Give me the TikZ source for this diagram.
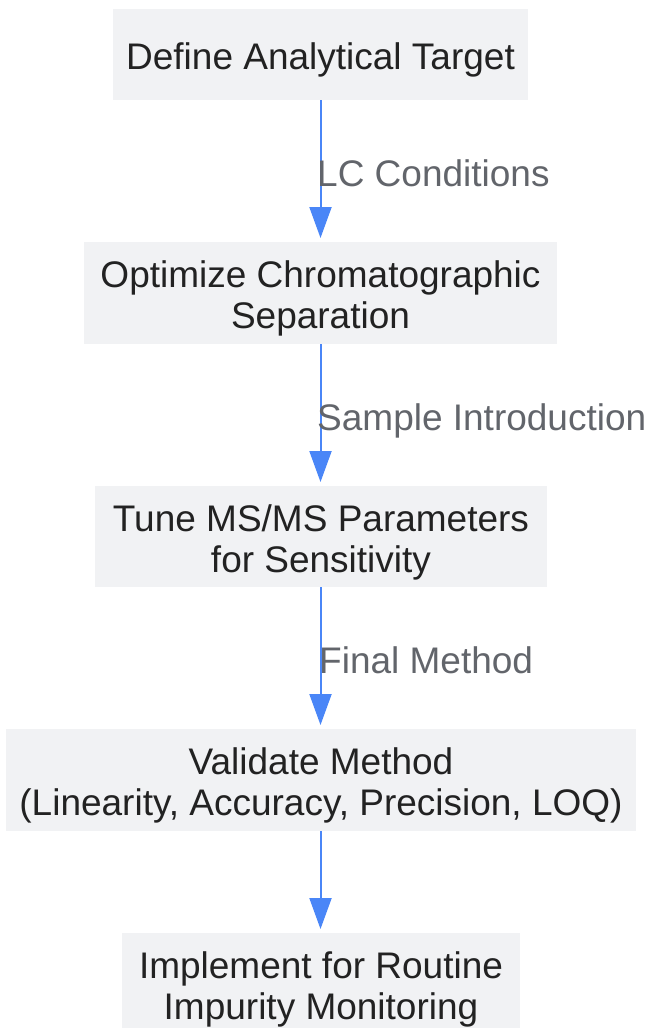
\documentclass[tikz,border=0pt]{standalone}
\usepackage{fontspec}
\setmainfont{Liberation Sans}
\usetikzlibrary{arrows.meta}
\definecolor{boxfill}{HTML}{F1F2F4}
\definecolor{arrowblue}{HTML}{4A86F7}
\definecolor{labelgray}{HTML}{62656B}
\definecolor{textdark}{HTML}{222222}
\begin{document}
\begin{tikzpicture}[x=1pt,y=1pt,
  stepbox/.style={fill=boxfill, draw=none, inner sep=0pt, anchor=center},
  boxtext/.style={align=center, text=textdark, font=\fontsize{37}{41}\selectfont, inner sep=0pt, anchor=center},
  arr/.style={draw=arrowblue, line width=2pt, -{Triangle[width=22pt,length=31pt]}},
  elabel/.style={text=labelgray, font=\fontsize{37}{41}\selectfont, anchor=base west, inner sep=0pt}]
\useasboundingbox (0,0) rectangle (652,-1028);
\node[stepbox, minimum width=415pt, minimum height=91pt] (n1) at (320.5,-54.5) {};
\node[stepbox, minimum width=473pt, minimum height=102pt] (n2) at (320.5,-293) {};
\node[stepbox, minimum width=452pt, minimum height=101pt] (n3) at (321,-536.5) {};
\node[stepbox, minimum width=630pt, minimum height=102pt] (n4) at (321,-780) {};
\node[stepbox, minimum width=398pt, minimum height=102pt] (n5) at (321,-984) {};
\node[boxtext] (x1) at ([yshift=-5pt]n1.center) {Define Analytical Target};
\node[boxtext] (x2) at ([yshift=-5.5pt]n2.center) {Optimize Chromatographic\\Separation};
\node[boxtext] (x3) at ([yshift=-5.5pt]n3.center) {Tune MS/MS Parameters\\for Sensitivity};
\node[boxtext] (x4) at ([yshift=-5.5pt]n4.center) {Validate Method\\(Linearity, Accuracy, Precision, LOQ)};
\node[boxtext] (x5) at ([yshift=-5.5pt]n5.center) {Implement for Routine\\Impurity Monitoring};
\coordinate (t2) at (320.5,-238);
\coordinate (t3) at (320.5,-482);
\coordinate (t4) at (320.5,-725);
\coordinate (t5) at (320.5,-929);
\draw[arr] (n1.south -| t2) -- (t2);
\draw[arr] (n2.south -| t3) -- (t3);
\draw[arr] (n3.south -| t4) -- (t4);
\draw[arr] (n4.south -| t5) -- (t5);
\node[elabel] (l1) at (317,-186) {LC Conditions};
\node[elabel] (l2) at (317,-430) {Sample Introduction};
\node[elabel] (l3) at (319,-673.5) {Final Method};
\end{tikzpicture}
\end{document}
